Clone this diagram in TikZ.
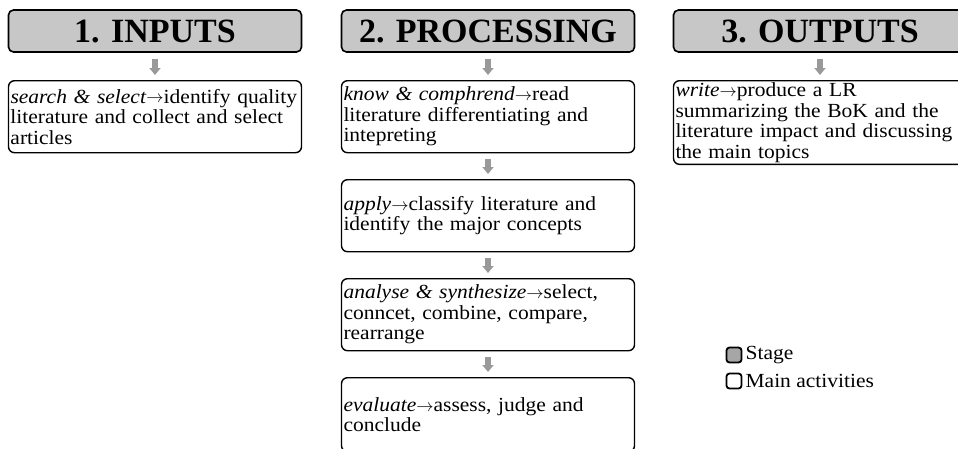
\documentclass[tikz,border=0pt]{standalone}
\usepackage{fontspec}
\setmainfont{Liberation Serif}
\newfontfamily\bodyfont[FakeStretch=1.075]{Liberation Serif}
\usetikzlibrary{arrows.meta}
\newcommand{\toarr}{\raisebox{0.3pt}{\fontsize{16}{16}\selectfont$\rightarrow$}}

\begin{document}
\begin{tikzpicture}[x=1pt,y=-1pt,
    stage/.style={draw,line width=1.6pt,rounded corners=5pt,fill=black!22,
        minimum width=293pt,minimum height=42pt,inner sep=0pt,
        font=\fontsize{34}{34}\selectfont\bfseries},
    activity/.style={draw,line width=1.4pt,rounded corners=6pt,anchor=north,
        minimum width=293pt,minimum height=72pt,text width=289pt,
        inner sep=2pt,align=left,font=\bodyfont\fontsize{20}{20.5}\selectfont},
    downarrow/.style={draw=black!40,line width=6pt,shorten <=6pt,shorten >=5pt,
        -{Triangle[width=11pt,length=7pt]}},
    legendbox/.style={draw,line width=1.8pt,rounded corners=3pt,
        minimum size=15pt,inner sep=0pt},
    legendtext/.style={anchor=west,inner sep=3pt,font=\bodyfont\fontsize{20}{20}\selectfont}]
    \useasboundingbox (0,0) rectangle (958,448);

    \node[stage] (inputs) at (155,31) {1. INPUTS};
    \node[stage] (processing) at (488,31) {2. PROCESSING};
    \node[stage] (outputs) at (820,31) {3. OUTPUTS};

    \node[activity] (search) at (155,80)
        {\textit{search \& select}\toarr identify quality\\literature and collect and select\\articles};
    \node[activity] (know) at (488,80)
        {\textit{know \& comphrend}\toarr read\\literature differentiating and\\intepreting};
    \node[activity] (apply) at (488,179)
        {\textit{apply}\toarr classify literature and\\identify the major concepts};
    \node[activity] (analyse) at (488,278)
        {\textit{analyse \& synthesize}\toarr select,\\conncet, combine, compare,\\rearrange};
    \node[activity,minimum height=74pt] (evaluate) at (488,377)
        {\textit{evaluate}\toarr assess, judge and\\conclude};
    \node[activity] (write) at (820,80)
        {\textit{write}\toarr produce a LR\\summarizing the BoK and the\\literature impact and discussing\\the main topics};

    \foreach \a/\b in {inputs/search,processing/know,know/apply,apply/analyse,analyse/evaluate,outputs/write} {
        \draw[downarrow] (\a.south) -- (\b.north);
    }

    \node[legendbox,fill=black!35] (stagekey) at (734,355) {};
    \node[legendbox] (activitykey) at (734,381) {};
    \node[legendtext] (stagetext) at (stagekey.east) {Stage};
    \node[legendtext] (activitytext) at (activitykey.east) {Main activities};
\end{tikzpicture}
\end{document}
